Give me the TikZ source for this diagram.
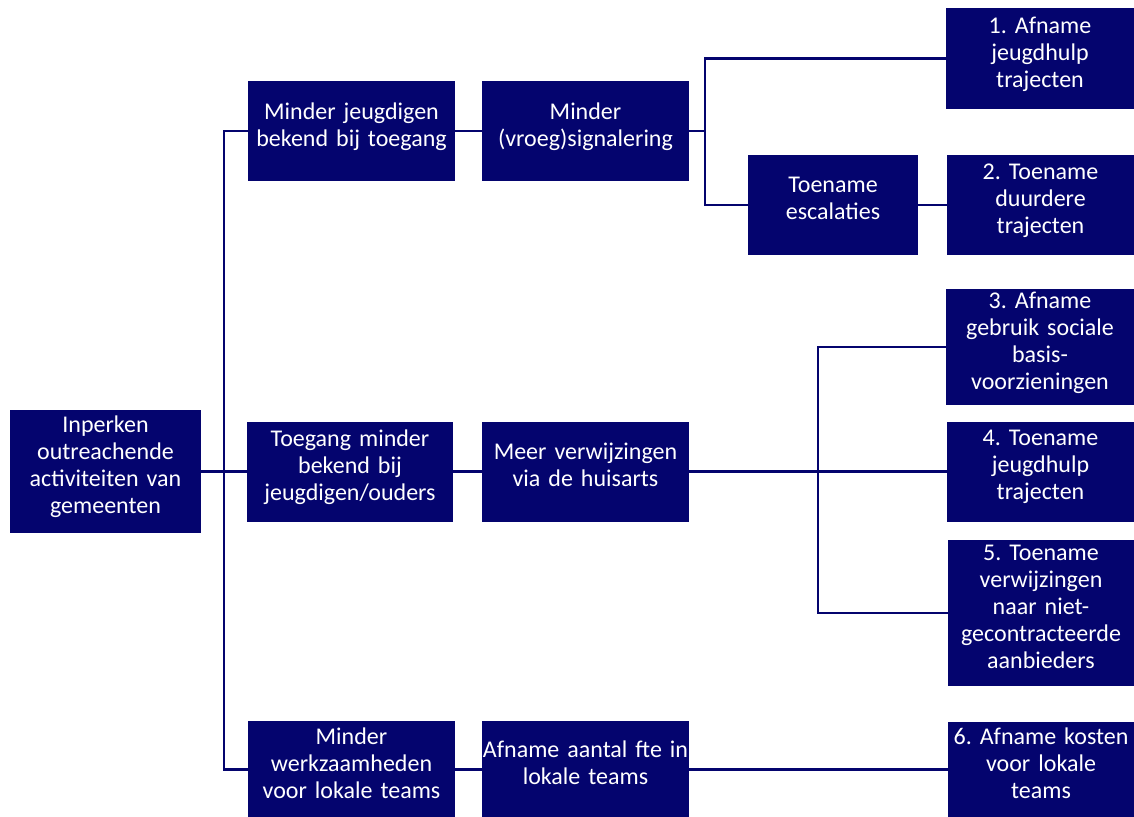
\documentclass[tikz,border=0pt]{standalone}
\usepackage{fontspec}
\setmainfont{Carlito}
\definecolor{navy}{RGB}{4,4,110}
\begin{document}
\frenchspacing
\begin{tikzpicture}[x=1pt,y=-1pt,
  box/.style={fill=navy, draw=none, text=white, align=center, inner sep=0pt,
    font=\fontsize{24}{27}\selectfont, execute at end node={\rule[-13pt]{0pt}{13pt}}},
  link/.style={draw=navy, line width=2.6pt}]
\useasboundingbox (0,0) rectangle (1134,816);
% boxes: centre, width, height
\node[box, minimum width=191, minimum height=123, text width=191] (root) at (105.5,471.5) {Inperken\\outreachende\\activiteiten van\\gemeenten};
\node[box, minimum width=207, minimum height=100, text width=207] (A1) at (351.5,131) {Minder jeugdigen\\bekend bij toegang};
\node[box, minimum width=206, minimum height=100, text width=206] (A2) at (350,471.5) {Toegang minder\\bekend bij\\jeugdigen/ouders};
\node[box, minimum width=207, minimum height=98, text width=207] (A3) at (351.5,769.5) {Minder\\werkzaamheden\\voor lokale teams};
\node[box, minimum width=207, minimum height=100, text width=207] (B1) at (585.5,131) {Minder\\(vroeg)signalering};
\node[box, minimum width=207, minimum height=100, text width=207] (B2) at (585.5,471.5) {Meer verwijzingen\\via de huisarts};
\node[box, minimum width=207, minimum height=98, text width=207] (B3) at (585.5,769.5) {Afname aantal fte in\\lokale teams};
\node[box, minimum width=170, minimum height=100, text width=170] (C) at (833,205) {Toename\\escalaties};
\node[box, minimum width=188, minimum height=101, text width=188] (D1) at (1040,58.5) {1. Afname\\jeugdhulp\\trajecten};
\node[box, minimum width=187, minimum height=100, text width=187] (D2) at (1040.5,205) {2. Toename\\duurdere\\trajecten};
\node[box, minimum width=188, minimum height=116, text width=188] (D3) at (1040,347) {3. Afname\\gebruik sociale\\basis-\\voorzieningen};
\node[box, minimum width=187, minimum height=100, text width=187] (D4) at (1040.5,471.5) {4. Toename\\jeugdhulp\\trajecten};
\node[box, minimum width=186, minimum height=146, text width=186] (D5) at (1041,613) {5. Toename\\verwijzingen\\naar niet-\\gecontracteerde\\aanbieders};
\node[box, minimum width=186, minimum height=96, text width=186] (D6) at (1041,769.5) {6. Afname kosten\\voor lokale\\teams};
% junctions
\coordinate (j0) at (224,471.5);
\coordinate (j1) at (705,131);
\coordinate (j2) at (818,471.5);
% connectors
\draw[link] (root.east) -- (j0);
\draw[link] (A1.west) -| (j0);
\draw[link] (A3.west) -| (j0);
\draw[link] (A2.west) -- (j0);
\draw[link] (A1.east) -- (B1.west);
\draw[link] (A2.east) -- (B2.west);
\draw[link] (A3.east) -- (B3.west);
\draw[link] (B1.east) -- (j1);
\draw[link] (D1.west) -| (j1);
\draw[link] (C.west) -| (j1);
\draw[link] (C.east) -- (D2.west);
\draw[link] (B2.east) -- (D4.west);
\draw[link] (D3.west) -| (j2);
\draw[link] (D5.west) -| (j2);
\draw[link] (B3.east) -- (D6.west);
\end{tikzpicture}
\end{document}
